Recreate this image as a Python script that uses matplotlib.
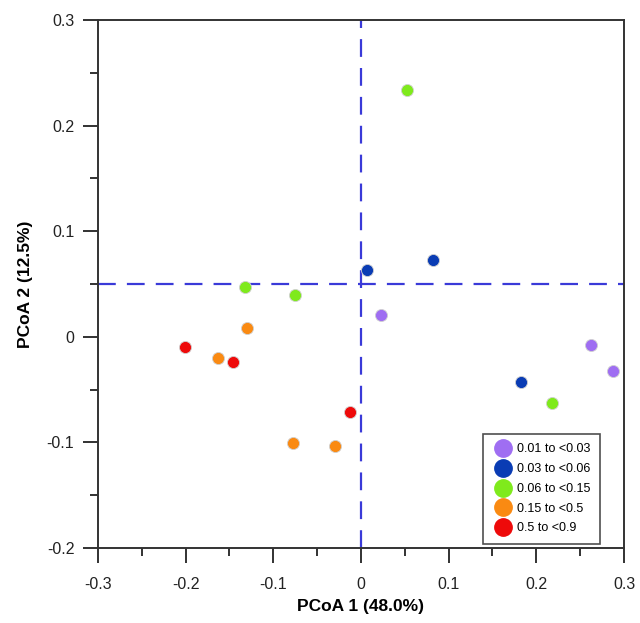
import matplotlib
matplotlib.use("Agg")
import matplotlib.pyplot as plt
from matplotlib.ticker import MultipleLocator
from matplotlib.lines import Line2D

plt.rcParams['font.family'] = ['Liberation Sans', 'DejaVu Sans']

groups = ["0.01 to <0.03", "0.03 to <0.06", "0.06 to <0.15", "0.15 to <0.5", "0.5 to <0.9"]
colors = ["#9F6EF2", "#0A3CB4", "#7FEA1C", "#FA8A12", "#EE0A0A"]

pc1 = {
    "0.01 to <0.03": [0.023, 0.262, 0.288],
    "0.03 to <0.06": [0.007, 0.082, 0.182],
    "0.06 to <0.15": [0.053, -0.132, -0.075, 0.218],
    "0.15 to <0.5": [-0.130, -0.163, -0.078, -0.030],
    "0.5 to <0.9": [-0.201, -0.146, -0.013],
}
pc2 = {
    "0.01 to <0.03": [0.021, -0.008, -0.032],
    "0.03 to <0.06": [0.063, 0.073, -0.043],
    "0.06 to <0.15": [0.234, 0.047, 0.040, -0.063],
    "0.15 to <0.5": [0.008, -0.020, -0.101, -0.103],
    "0.5 to <0.9": [-0.010, -0.024, -0.071],
}

ref_x = 0.0
ref_y = 0.05

fig = plt.figure(figsize=(6.4, 6.23), dpi=100)
ax = fig.add_axes([0.153, 0.1204, 0.822, 0.8476])

ax.axvline(ref_x, color="#3a3ad8", lw=1.6, dashes=(8, 5), zorder=1)
ax.axhline(ref_y, color="#3a3ad8", lw=1.6, dashes=(8, 5), zorder=1)

for g, c in zip(groups, colors):
    ax.scatter(pc1[g], pc2[g], s=75, color=c, edgecolor="#d0d0d0", linewidth=0.6, zorder=3)

ax.set_xlim(-0.3, 0.3)
ax.set_ylim(-0.2, 0.3)
ax.xaxis.set_major_locator(MultipleLocator(0.1))
ax.xaxis.set_minor_locator(MultipleLocator(0.05))
ax.yaxis.set_major_locator(MultipleLocator(0.1))
ax.yaxis.set_minor_locator(MultipleLocator(0.05))

def fmt(v, _):
    if abs(v) < 1e-9:
        return "0"
    return f"{v:.1f}"
ax.xaxis.set_major_formatter(fmt)
ax.yaxis.set_major_formatter(fmt)

ax.tick_params(which="major", direction="out", length=11, width=1.3, labelsize=11.5,
               colors="#222222", pad=6)
ax.tick_params(axis="x", which="major", pad=10)
ax.tick_params(which="minor", direction="out", length=6, width=1.3, colors="#222222")
ax.tick_params(top=False, right=False, which="both")
for s in ax.spines.values():
    s.set_linewidth(1.4)
    s.set_color("#333333")

ax.set_xlabel("PCoA 1 (48.0%)", fontsize=12.5, fontweight="bold", labelpad=5)
ax.set_ylabel("PCoA 2 (12.5%)", fontsize=12.5, fontweight="bold", labelpad=10)

handles = [Line2D([], [], marker="o", linestyle="none", markersize=12.5,
                  markerfacecolor=c, markeredgecolor=c) for c in colors]
leg = ax.legend(handles, groups, loc="lower right", bbox_to_anchor=(0.954, 0.008),
                fontsize=9, frameon=True, fancybox=False, edgecolor="#222222",
                handletextpad=0.35, labelspacing=0.62, borderpad=0.75, handlelength=1.6,
                borderaxespad=0)
leg.get_frame().set_linewidth(1.2)

fig.savefig("out.png", dpi=100)
